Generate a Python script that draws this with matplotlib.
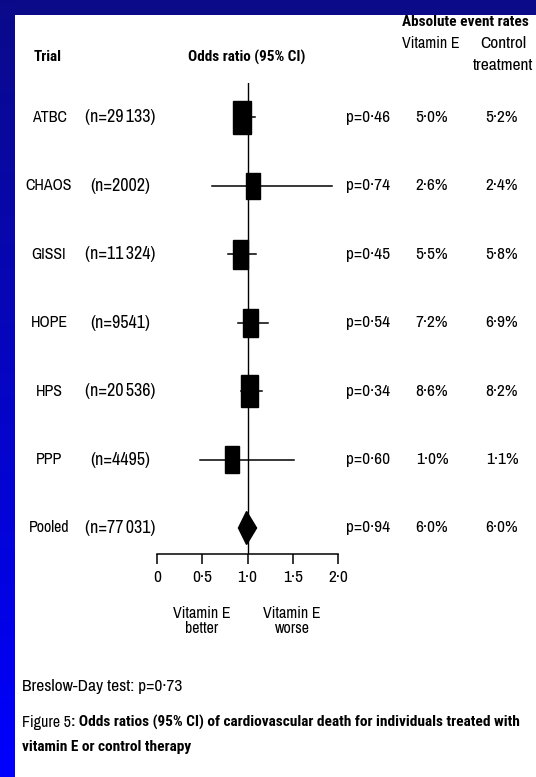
import numpy as np
import matplotlib
matplotlib.use("Agg")
import matplotlib.pyplot as plt
from matplotlib import font_manager as fm
from matplotlib.patches import Rectangle, Polygon
from matplotlib.transforms import blended_transform_factory

# ---- data ----
trials = ["ATBC", "CHAOS", "GISSI", "HOPE", "HPS", "PPP", "Pooled"]
n_labels = ["(n=29\u2009133)", "(n=2002)", "(n=11\u2009324)", "(n=9541)",
            "(n=20\u2009536)", "(n=4495)", "(n=77\u2009031)"]
odds_ratio = [0.94, 1.06, 0.92, 1.03, 1.02, 0.83, 0.99]
ci_low = [0.86, 0.61, 0.78, 0.89, 0.93, 0.48, 0.90]
ci_high = [1.08, 1.93, 1.09, 1.23, 1.16, 1.51, 1.10]
weights = [1.00, 0.79, 0.88, 0.85, 0.97, 0.82]   # relative box size
p_values = ["p=0\u00b746", "p=0\u00b774", "p=0\u00b745", "p=0\u00b754",
            "p=0\u00b734", "p=0\u00b760", "p=0\u00b794"]
rate_vite = ["5\u00b70%", "2\u00b76%", "5\u00b75%", "7\u00b72%", "8\u00b76%",
             "1\u00b70%", "6\u00b70%"]
rate_ctrl = ["5\u00b72%", "2\u00b74%", "5\u00b78%", "6\u00b79%", "8\u00b72%",
             "1\u00b71%", "6\u00b70%"]
xticks = [0, 0.5, 1.0, 1.5, 2.0]
xtick_labels = ["0", "0\u00b75", "1\u00b70", "1\u00b75", "2\u00b70"]

W, H = 536, 777
FONT = ["Archivo Narrow", "DejaVu Sans"]
plt.rcParams["font.family"] = FONT

# narrow regular font has no bold cut: pick a condensed family that has one
have = {(f.name, f.weight) for f in fm.fontManager.ttflist}
bold_fam = "DejaVu Sans"
for cand in ["Roboto Condensed", "Fira Sans Condensed", "Barlow Semi Condensed",
             "IBM Plex Sans Condensed", "Encode Sans Condensed", "Asap Condensed",
             "Saira SemiCondensed", "Barlow Condensed"]:
    if (cand, 700) in have or (cand, "bold") in have:
        bold_fam = cand
        break
BOLD = dict(family=[bold_fam, "DejaVu Sans"], fontweight="bold")

fig = plt.figure(figsize=(W / 100, H / 100), dpi=100)
fig.patch.set_facecolor("white")


def fx(x):
    return x / W


def fy(y):
    return 1 - y / H


# blue slide border: flat top band, gradient band on the left
top = fig.add_axes([0, fy(15), 1, 15 / H])
top.set_axis_off()
top.add_patch(Rectangle((0, 0), 1, 1, color="#0b0b8a", transform=top.transAxes))
left = fig.add_axes([0, 0, fx(15), 1])
left.set_axis_off()
grad = np.linspace(0, 1, 256)
cols = np.zeros((256, 1, 3))
cols[:, 0, 2] = 0.54 + 0.46 * grad
cols[:, 0, 0] = 0.04 * (1 - grad)
cols[:, 0, 1] = 0.04 * (1 - grad)
left.imshow(cols, aspect="auto", extent=[0, 1, 1, 0])
left.set_xlim(0, 1)
left.set_ylim(1, 0)

# forest plot axes: x 0..2 spans pixels 157..338, rows 68.5 px apart
ax_top, ax_bot = 83, 554
ax = fig.add_axes([fx(157), fy(ax_bot), (338 - 157) / W, (ax_bot - ax_top) / H])
ax.set_xlim(0, 2)
ax.set_ylim(6.38, -0.5)
ax.patch.set_alpha(0)
for s in ["top", "left", "right"]:
    ax.spines[s].set_visible(False)
ax.spines["bottom"].set_linewidth(1.1)
ax.set_yticks([])
ax.set_xticks(xticks)
ax.set_xticklabels(xtick_labels, fontsize=12.5)
ax.tick_params(axis="x", direction="out", length=7.5, width=1.1, pad=4)
ax.axvline(1.0, color="black", lw=1.0, zorder=1)

px_x = 90.5   # pixels per OR unit
px_y = 68.5   # pixels per row
rows = np.arange(len(trials))
for i in range(len(trials) - 1):
    ax.plot([ci_low[i], ci_high[i]], [rows[i], rows[i]], color="black", lw=1.1, zorder=2)
    hh = 16.5 * weights[i] / px_y
    hw = 8.8 * weights[i] / px_x
    ax.add_patch(Rectangle((odds_ratio[i] - hw, rows[i] - hh), 2 * hw, 2 * hh,
                           facecolor="black", edgecolor="black", zorder=3))
k = len(trials) - 1
dh = 16.5 / px_y
ax.add_patch(Polygon([(ci_low[k], rows[k]), (odds_ratio[k], rows[k] - dh),
                      (ci_high[k], rows[k]), (odds_ratio[k], rows[k] + dh)],
                     closed=True, facecolor="black", edgecolor="black", zorder=3))

# row texts: x in figure fraction, y in row units
tr = blended_transform_factory(fig.transFigure, ax.transData)
fs = 12.5
for i in rows:
    fig.text(fx(49), rows[i], trials[i], transform=tr, ha="center", va="center", fontsize=11.5)
    fig.text(fx(120), rows[i], n_labels[i], transform=tr, ha="center", va="center", fontsize=13)
    fig.text(fx(346), rows[i], p_values[i], transform=tr, ha="left", va="center", fontsize=fs)
    fig.text(fx(432), rows[i], rate_vite[i], transform=tr, ha="center", va="center", fontsize=fs)
    fig.text(fx(502), rows[i], rate_ctrl[i], transform=tr, ha="center", va="center", fontsize=fs)

# headers
fig.text(fx(48), fy(57), "Trial", ha="center", va="center", fontsize=11, **BOLD)
fig.text(fx(247), fy(57), "Odds ratio (95% CI)", ha="center", va="center",
         fontsize=11, **BOLD)
fig.text(fx(465), fy(22), "Absolute event rates", ha="center", va="center",
         fontsize=11, **BOLD)
fig.text(fx(431), fy(44), "Vitamin E", ha="center", va="center", fontsize=11.5)
fig.text(fx(503), fy(44), "Control", ha="center", va="center", fontsize=fs)
fig.text(fx(503), fy(65), "treatment", ha="center", va="center", fontsize=fs)

# direction labels under the axis
fig.text(fx(202), fy(621), "Vitamin E\nbetter", ha="center", va="center",
         fontsize=11.5, linespacing=1.05)
fig.text(fx(292), fy(621), "Vitamin E\nworse", ha="center", va="center",
         fontsize=11.5, linespacing=1.05)

# footnotes and caption
fig.text(fx(22), fy(687), "Breslow-Day test: p=0\u00b773", ha="left", va="center", fontsize=fs)
t1 = fig.text(fx(22), fy(722), "Figure 5", ha="left", va="center", fontsize=11.5)
fig.canvas.draw()
ext = t1.get_window_extent()
cap = fig.text(ext.x1 / W, fy(722),
               ": Odds ratios (95% CI) of cardiovascular death for individuals treated with",
               ha="left", va="center", fontsize=11, **BOLD)
fig.canvas.draw()
cext = cap.get_window_extent()
cap_fs = 11 * (518 - ext.x1) / cext.width   # line ends near x=518 in the reference
cap.set_fontsize(cap_fs)
fig.text(fx(22), fy(747), "vitamin E or control therapy", ha="left", va="center",
         fontsize=cap_fs, **BOLD)

fig.savefig("out.png", dpi=100)
